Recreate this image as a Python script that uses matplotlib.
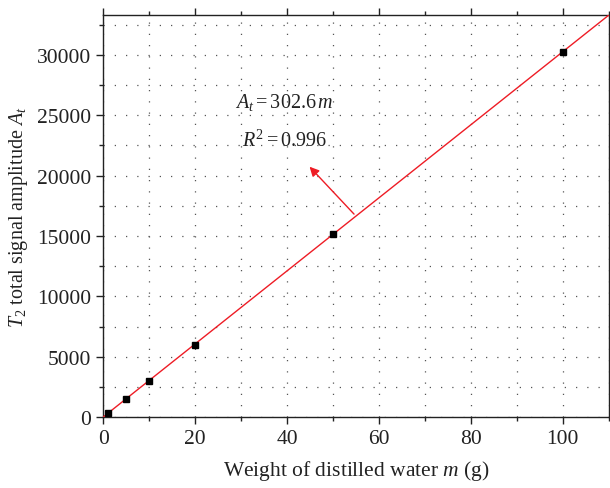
import matplotlib
matplotlib.use("Agg")
import matplotlib.pyplot as plt
from matplotlib.ticker import MultipleLocator
import numpy as np

mass = [1, 5, 10, 20, 50, 100]
amplitude = [330, 1490, 3030, 5960, 15190, 30220]
slope = 302.6
x_max = 110
x_ticks = [0, 20, 40, 60, 80, 100]
y_ticks = [0, 5000, 10000, 15000, 20000, 25000, 30000]

plt.rcParams['font.family'] = ['Liberation Serif', 'DejaVu Serif']
plt.rcParams['mathtext.fontset'] = 'custom'
plt.rcParams['mathtext.rm'] = 'Liberation Serif'
plt.rcParams['mathtext.it'] = 'Liberation Serif:italic'

fig = plt.figure(figsize=(6.1, 4.89), dpi=100)
ax = fig.add_axes([0.169, 0.145, 0.829, 0.822])

fit_x = np.array([0, x_max])
ax.plot(fit_x, slope * fit_x, color='#ee1c25', lw=1.0, zorder=3)
ax.plot(mass, amplitude, ls='none', marker='s', ms=4.5, color='black', zorder=4)

ax.set_xlim(0, x_max)
ax.set_ylim(0, slope * x_max)
ax.set_xticks(x_ticks)
ax.set_yticks(y_ticks)
ax.xaxis.set_minor_locator(MultipleLocator(10))
ax.yaxis.set_minor_locator(MultipleLocator(2500))
ax.grid(True, which='both', color='#555555', ls=(0, (1, 8)), lw=0.9)
ax.tick_params(which='both', direction='out', top=True, right=True, labelsize=15.5, colors='#222222')
ax.tick_params(which='major', length=5, width=1)
ax.tick_params(which='minor', length=3, width=1)
for s in ax.spines.values():
    s.set_color('#222222')
    s.set_linewidth(1.0)

ax.set_xlabel(r"Weight of distilled water $m$ (g)", fontsize=15.5, color='#222222', labelpad=7)
ax.set_ylabel(r"$T_2$ total signal amplitude $A_t$", fontsize=14.5, color='#222222', labelpad=5)

ax.text(39.5, 26100, r"$A_t = 302.6\,m$", fontsize=14.5, ha='center', va='center', color='#222222')
ax.text(39.5, 22900, r"$R^2 = 0.996$", fontsize=14.5, ha='center', va='center', color='#222222')
ax.annotate("", xy=(44.5, 20900), xytext=(55, 302.6 * 55),
            arrowprops=dict(arrowstyle='-|>', color='#ee1c25', lw=1.0, mutation_scale=14))

fig.savefig("out.png", dpi=100)
